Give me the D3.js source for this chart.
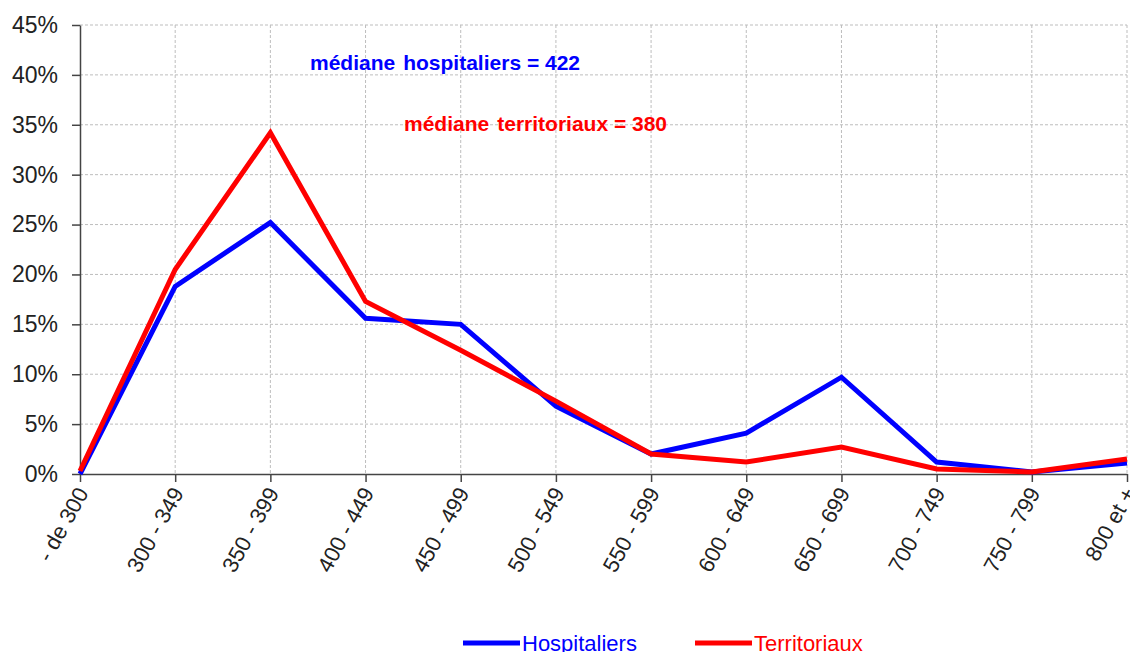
<!DOCTYPE html>
<html>
<head>
<meta charset="utf-8">
<script src="https://cdn.jsdelivr.net/npm/d3@7"></script>
<style>
  body { margin: 0; background: #fff; }
  svg text { font-family: "Liberation Sans", Arial, sans-serif; }
</style>
</head>
<body>
<svg id="chart" width="1130" height="652"></svg>
<script>
var categories = ['- de 300', '300 - 349', '350 - 399', '400 - 449', '450 - 499', '500 - 549',
  '550 - 599', '600 - 649', '650 - 699', '700 - 749', '750 - 799', '800 et +'];
var hospitaliers = [0, 18.8, 25.2, 15.6, 15.0, 6.8, 2.0, 4.1, 9.7, 1.2, 0.2, 1.1];
var territoriaux = [0.3, 20.5, 34.2, 17.3, 12.4, 7.3, 2.0, 1.2, 2.7, 0.5, 0.2, 1.5];
var yTicks = [0, 5, 10, 15, 20, 25, 30, 35, 40, 45];

var series = [
  {name: 'Hospitaliers', values: hospitaliers, color: '#0000ff'},
  {name: 'Territoriaux', values: territoriaux, color: '#ff0000'}
];

var svg = d3.select('#chart');
var plotLeft = 80, plotRight = 1127, plotTop = 25, plotBottom = 474;

var x = d3.scalePoint().domain(categories).range([plotLeft, plotRight]);
var y = d3.scaleLinear().domain([0, 45]).range([plotBottom, plotTop]);

// grid
var grid = svg.append('g').attr('stroke', '#bdbdbd').attr('stroke-dasharray', '3,2').attr('stroke-width', 1);
grid.selectAll('.h').data(yTicks.slice(1)).enter().append('line')
  .attr('x1', plotLeft).attr('x2', plotRight)
  .attr('y1', function(d) { return y(d); }).attr('y2', function(d) { return y(d); });
grid.selectAll('.v').data(categories.slice(1)).enter().append('line')
  .attr('x1', function(d) { return x(d); }).attr('x2', function(d) { return x(d); })
  .attr('y1', plotTop).attr('y2', plotBottom);

// y axis
var yAxis = svg.append('g')
  .attr('transform', 'translate(' + plotLeft + ',0)')
  .call(d3.axisLeft(y).tickValues(yTicks).tickSize(8).tickSizeOuter(0).tickPadding(14)
    .tickFormat(function(d) { return d + '%'; }));
yAxis.selectAll('text').attr('font-size', 23).attr('fill', '#222');
yAxis.select('.domain').attr('stroke', '#444').attr('stroke-width', 1.5);
yAxis.selectAll('.tick line').attr('stroke', '#444').attr('stroke-width', 1.5);

// x axis
var xAxis = svg.append('g')
  .attr('transform', 'translate(0,' + plotBottom + ')')
  .call(d3.axisBottom(x).tickSize(8).tickSizeOuter(0));
xAxis.select('.domain').attr('stroke', '#444').attr('stroke-width', 1.5);
xAxis.selectAll('.tick line').attr('stroke', '#444').attr('stroke-width', 1.5);
xAxis.selectAll('text')
  .attr('font-size', 22).attr('fill', '#222')
  .attr('text-anchor', 'end')
  .attr('x', 0).attr('y', 0).attr('dy', '0.35em')
  .attr('transform', 'translate(2,15) rotate(-61)');

// lines
var line = d3.line()
  .x(function(d, i) { return x(categories[i]); })
  .y(function(d) { return y(d); });

svg.selectAll('.series').data(series).enter().append('path')
  .attr('d', function(s) { return line(s.values); })
  .attr('fill', 'none')
  .attr('stroke', function(s) { return s.color; })
  .attr('stroke-width', 5)
  .attr('stroke-linejoin', 'miter');

// annotations (wide gap after "médiane", as in the original)
function note(xp, yp, color, first, rest) {
  var t = svg.append('text').attr('x', xp).attr('y', yp).attr('font-size', 21)
    .attr('font-weight', 'bold').attr('fill', color);
  t.append('tspan').text(first);
  t.append('tspan').attr('dx', 8).text(rest);
}
note(310, 70, '#0000ff', 'médiane', 'hospitaliers = 422');
note(404, 131, '#ff0000', 'médiane', 'territoriaux = 380');

// legend
var legend = svg.selectAll('.legend').data(series).enter().append('g')
  .attr('transform', function(d, i) { return 'translate(' + (463 + i * 232) + ',643)'; });
legend.append('line').attr('x1', 0).attr('x2', 57).attr('y1', 0).attr('y2', 0)
  .attr('stroke', function(d) { return d.color; }).attr('stroke-width', 5);
legend.append('text').attr('x', 59).attr('y', 0).attr('dy', '0.35em').attr('font-size', 22)
  .attr('fill', function(d) { return d.color; }).text(function(d) { return d.name; });
</script>
</body>
</html>
